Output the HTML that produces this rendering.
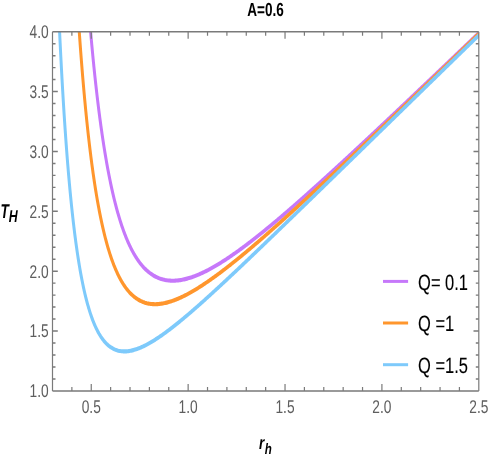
<!DOCTYPE html>
<html><head><meta charset="utf-8"><title>plot</title>
<style>
html,body{margin:0;padding:0;background:#fff;}
body{width:491px;height:458px;overflow:hidden;}
svg{display:block;will-change:transform;}
text{font-family:"Liberation Sans",sans-serif;text-rendering:geometricPrecision;}
</style></head><body>
<svg width="491" height="458" viewBox="0 0 491 458">
<rect x="0" y="0" width="491" height="458" fill="#fff"/>
<defs><clipPath id="cp"><rect x="52.5" y="31.7" width="426.3" height="359.2"/></clipPath></defs>
<g clip-path="url(#cp)">
<g transform="scale(0.73,1)" fill="none" stroke-width="4.1" stroke-linejoin="round" stroke-linecap="butt">
<path stroke="#c678fa" d="M123.18,23.82 L123.29,24.82 L123.41,25.82 L123.54,26.94 L123.67,28.05 L123.81,29.16 L123.94,30.26 L124.07,31.36 L124.20,32.45 L124.33,33.54 L124.46,34.62 L124.59,35.70 L124.72,36.78 L124.86,37.85 L124.99,38.91 L125.12,39.97 L125.25,41.03 L125.38,42.08 L125.51,43.12 L125.64,44.17 L125.78,45.20 L125.91,46.24 L126.04,47.26 L126.17,48.29 L126.30,49.31 L126.43,50.32 L126.56,51.33 L126.70,52.34 L126.83,53.34 L126.96,54.34 L127.10,55.44 L127.25,56.54 L127.40,57.63 L127.54,58.72 L127.69,59.80 L127.83,60.88 L127.98,61.95 L128.13,63.02 L128.27,64.08 L128.42,65.14 L128.56,66.19 L128.71,67.24 L128.86,68.28 L129.00,69.32 L129.15,70.35 L129.29,71.38 L129.44,72.40 L129.59,73.42 L129.73,74.43 L129.88,75.44 L130.02,76.44 L130.17,77.44 L130.33,78.53 L130.49,79.62 L130.65,80.70 L130.81,81.78 L130.97,82.85 L131.13,83.91 L131.29,84.97 L131.46,86.02 L131.62,87.07 L131.78,88.11 L131.94,89.15 L132.10,90.18 L132.26,91.21 L132.42,92.23 L132.58,93.25 L132.74,94.26 L132.90,95.27 L133.06,96.27 L133.22,97.26 L133.40,98.34 L133.57,99.42 L133.75,100.48 L133.92,101.55 L134.10,102.60 L134.27,103.65 L134.45,104.70 L134.62,105.73 L134.80,106.77 L134.97,107.79 L135.15,108.82 L135.32,109.83 L135.50,110.84 L135.67,111.85 L135.85,112.84 L136.03,113.84 L136.21,114.91 L136.40,115.97 L136.59,117.03 L136.78,118.08 L136.97,119.12 L137.16,120.16 L137.35,121.19 L137.54,122.22 L137.73,123.24 L137.92,124.25 L138.11,125.26 L138.30,126.26 L138.49,127.25 L138.70,128.32 L138.90,129.38 L139.11,130.43 L139.31,131.47 L139.51,132.51 L139.72,133.54 L139.92,134.57 L140.13,135.59 L140.33,136.60 L140.54,137.60 L140.74,138.60 L140.95,139.60 L141.16,140.65 L141.38,141.70 L141.60,142.74 L141.82,143.78 L142.04,144.81 L142.26,145.83 L142.48,146.84 L142.70,147.85 L142.92,148.85 L143.14,149.84 L143.37,150.89 L143.60,151.94 L143.84,152.97 L144.07,154.00 L144.30,155.02 L144.54,156.04 L144.77,157.05 L145.00,158.05 L145.24,159.04 L145.49,160.09 L145.73,161.12 L145.98,162.15 L146.23,163.18 L146.48,164.19 L146.73,165.20 L146.97,166.20 L147.22,167.19 L147.47,168.17 L147.73,169.21 L148.00,170.23 L148.26,171.25 L148.52,172.26 L148.79,173.26 L149.05,174.25 L149.31,175.24 L149.59,176.27 L149.87,177.29 L150.14,178.30 L150.42,179.31 L150.70,180.30 L150.98,181.29 L151.27,182.32 L151.56,183.34 L151.85,184.35 L152.14,185.36 L152.44,186.35 L152.73,187.34 L153.03,188.36 L153.34,189.38 L153.65,190.38 L153.95,191.38 L154.26,192.36 L154.57,193.34 L154.89,194.36 L155.21,195.36 L155.53,196.35 L155.85,197.34 L156.17,198.31 L156.51,199.32 L156.84,200.32 L157.18,201.31 L157.52,202.29 L157.87,203.30 L158.22,204.30 L158.57,205.28 L158.92,206.26 L159.27,207.23 L159.63,208.22 L160.00,209.21 L160.36,210.18 L160.74,211.19 L161.12,212.18 L161.50,213.15 L161.88,214.12 L162.28,215.11 L162.67,216.09 L163.06,217.06 L163.47,218.05 L163.88,219.03 L164.29,220.00 L164.70,220.95 L165.12,221.93 L165.55,222.89 L165.98,223.88 L166.42,224.85 L166.86,225.80 L167.31,226.78 L167.76,227.74 L168.22,228.69 L168.68,229.65 L169.15,230.60 L169.63,231.57 L170.12,232.52 L170.60,233.46 L171.09,234.41 L171.59,235.34 L172.10,236.29 L172.61,237.22 L173.14,238.17 L173.66,239.09 L174.20,240.03 L174.74,240.95 L175.30,241.88 L175.87,242.82 L176.44,243.74 L177.02,244.67 L177.60,245.58 L178.20,246.49 L178.82,247.41 L179.43,248.31 L180.06,249.21 L180.70,250.12 L181.34,251.01 L182.00,251.89 L182.67,252.78 L183.36,253.66 L184.06,254.55 L184.76,255.41 L185.47,256.27 L186.20,257.13 L186.95,257.98 L187.71,258.82 L188.48,259.66 L189.27,260.49 L190.07,261.32 L190.89,262.13 L191.72,262.94 L192.57,263.73 L193.43,264.51 L194.31,265.29 L195.21,266.06 L196.13,266.81 L197.07,267.56 L198.02,268.28 L198.99,269.00 L199.99,269.71 L200.99,270.39 L202.02,271.06 L203.07,271.72 L204.13,272.35 L205.21,272.97 L206.32,273.57 L207.45,274.15 L208.59,274.71 L209.75,275.25 L210.94,275.77 L212.13,276.26 L213.34,276.73 L214.59,277.17 L215.84,277.59 L217.11,277.99 L218.40,278.36 L219.70,278.70 L221.01,279.02 L222.32,279.30 L223.65,279.56 L225.00,279.79 L226.34,280.00 L227.70,280.18 L229.05,280.33 L230.43,280.45 L231.80,280.55 L233.17,280.63 L234.54,280.68 L235.92,280.70 L237.29,280.70 L238.66,280.68 L240.03,280.64 L241.41,280.57 L242.78,280.48 L244.15,280.38 L245.52,280.25 L246.88,280.10 L248.24,279.94 L249.60,279.76 L250.95,279.56 L252.30,279.35 L253.64,279.12 L254.98,278.87 L256.31,278.62 L257.64,278.34 L258.95,278.06 L260.27,277.76 L261.58,277.45 L262.88,277.14 L264.18,276.80 L265.48,276.46 L266.77,276.11 L268.05,275.75 L269.33,275.37 L270.60,274.99 L271.88,274.60 L273.15,274.21 L274.40,273.80 L275.66,273.39 L276.91,272.96 L278.15,272.54 L279.39,272.10 L280.63,271.66 L281.86,271.21 L283.09,270.76 L284.31,270.30 L285.54,269.83 L286.75,269.36 L287.96,268.88 L289.18,268.40 L290.39,267.91 L291.58,267.42 L292.78,266.92 L293.98,266.41 L295.18,265.91 L296.36,265.40 L297.54,264.88 L298.72,264.36 L299.91,263.84 L301.07,263.31 L302.24,262.78 L303.41,262.25 L304.58,261.71 L305.75,261.17 L306.90,260.63 L308.05,260.08 L309.21,259.53 L310.36,258.98 L311.51,258.42 L312.67,257.86 L313.81,257.30 L314.94,256.73 L316.08,256.17 L317.22,255.60 L318.36,255.02 L319.50,254.44 L320.62,253.87 L321.75,253.29 L322.87,252.71 L324.00,252.13 L325.12,251.54 L326.24,250.95 L327.37,250.36 L328.48,249.77 L329.59,249.18 L330.70,248.58 L331.81,247.99 L332.92,247.39 L334.03,246.78 L335.14,246.18 L336.25,245.57 L337.34,244.97 L338.43,244.36 L339.53,243.76 L340.62,243.15 L341.72,242.53 L342.81,241.92 L343.91,241.30 L345.00,240.68 L346.10,240.06 L347.19,239.44 L348.28,238.82 L349.36,238.20 L350.44,237.58 L351.52,236.96 L352.60,236.34 L353.68,235.71 L354.76,235.08 L355.84,234.45 L356.92,233.82 L358.00,233.18 L359.08,232.55 L360.14,231.92 L361.21,231.29 L362.28,230.66 L363.34,230.02 L364.41,229.39 L365.47,228.75 L366.54,228.11 L367.61,227.47 L368.67,226.83 L369.74,226.19 L370.80,225.54 L371.87,224.90 L372.93,224.25 L374.00,223.60 L375.07,222.95 L376.12,222.31 L377.17,221.67 L378.22,221.02 L379.27,220.38 L380.32,219.73 L381.37,219.08 L382.42,218.43 L383.47,217.78 L384.53,217.13 L385.58,216.47 L386.63,215.82 L387.68,215.17 L388.73,214.51 L389.78,213.85 L390.83,213.19 L391.88,212.53 L392.94,211.87 L393.99,211.21 L395.04,210.55 L396.07,209.89 L397.11,209.24 L398.15,208.58 L399.18,207.92 L400.22,207.27 L401.26,206.61 L402.29,205.95 L403.33,205.29 L404.37,204.63 L405.40,203.96 L406.44,203.30 L407.48,202.64 L408.51,201.97 L409.55,201.30 L410.59,200.64 L411.62,199.97 L412.66,199.30 L413.70,198.63 L414.73,197.96 L415.77,197.29 L416.81,196.62 L417.84,195.95 L418.88,195.28 L419.92,194.61 L420.95,193.93 L421.99,193.26 L423.03,192.58 L424.05,191.92 L425.07,191.25 L426.09,190.58 L427.11,189.91 L428.14,189.24 L429.16,188.57 L430.18,187.90 L431.20,187.23 L432.22,186.56 L433.25,185.89 L434.27,185.22 L435.29,184.55 L436.31,183.87 L437.33,183.20 L438.36,182.52 L439.38,181.85 L440.40,181.17 L441.42,180.50 L442.44,179.82 L443.47,179.14 L444.49,178.47 L445.51,177.79 L446.53,177.11 L447.55,176.43 L448.57,175.75 L449.60,175.07 L450.62,174.39 L451.64,173.71 L452.66,173.03 L453.68,172.35 L454.71,171.66 L455.73,170.98 L456.75,170.30 L457.77,169.61 L458.79,168.93 L459.82,168.25 L460.84,167.56 L461.86,166.88 L462.88,166.19 L463.90,165.51 L464.93,164.82 L465.95,164.13 L466.97,163.45 L467.99,162.76 L469.00,162.08 L470.01,161.40 L471.01,160.72 L472.02,160.04 L473.03,159.36 L474.04,158.69 L475.04,158.01 L476.05,157.33 L477.06,156.64 L478.07,155.96 L479.07,155.28 L480.08,154.60 L481.09,153.92 L482.10,153.24 L483.10,152.55 L484.11,151.87 L485.12,151.19 L486.13,150.50 L487.13,149.82 L488.14,149.14 L489.15,148.45 L490.15,147.77 L491.16,147.08 L492.17,146.40 L493.18,145.71 L494.18,145.03 L495.19,144.34 L496.20,143.66 L497.21,142.97 L498.21,142.28 L499.22,141.60 L500.23,140.91 L501.24,140.22 L502.24,139.53 L503.25,138.85 L504.26,138.16 L505.27,137.47 L506.27,136.78 L507.28,136.09 L508.29,135.40 L509.30,134.72 L510.30,134.03 L511.31,133.34 L512.32,132.65 L513.32,131.96 L514.33,131.27 L515.34,130.58 L516.35,129.89 L517.35,129.19 L518.36,128.50 L519.37,127.81 L520.38,127.12 L521.38,126.43 L522.39,125.74 L523.40,125.05 L524.41,124.35 L525.41,123.66 L526.42,122.97 L527.43,122.28 L528.44,121.58 L529.44,120.89 L530.45,120.20 L531.46,119.50 L532.46,118.81 L533.47,118.12 L534.48,117.42 L535.49,116.73 L536.49,116.03 L537.50,115.34 L538.51,114.64 L539.52,113.95 L540.52,113.26 L541.53,112.56 L542.54,111.87 L543.55,111.17 L544.55,110.47 L545.56,109.78 L546.57,109.08 L547.58,108.39 L548.58,107.69 L549.59,107.00 L550.60,106.30 L551.60,105.60 L552.61,104.91 L553.62,104.21 L554.63,103.51 L555.63,102.82 L556.64,102.12 L557.65,101.42 L558.66,100.72 L559.66,100.03 L560.67,99.33 L561.68,98.63 L562.69,97.93 L563.69,97.24 L564.70,96.54 L565.71,95.84 L566.72,95.14 L567.72,94.44 L568.73,93.74 L569.74,93.05 L570.75,92.35 L571.75,91.65 L572.76,90.95 L573.77,90.25 L574.77,89.55 L575.77,88.86 L576.76,88.17 L577.75,87.48 L578.75,86.79 L579.74,86.10 L580.73,85.41 L581.72,84.72 L582.72,84.04 L583.71,83.35 L584.70,82.66 L585.70,81.97 L586.69,81.28 L587.68,80.58 L588.67,79.89 L589.67,79.20 L590.66,78.51 L591.65,77.82 L592.64,77.13 L593.64,76.44 L594.63,75.75 L595.62,75.06 L596.62,74.37 L597.61,73.68 L598.60,72.99 L599.59,72.30 L600.59,71.60 L601.58,70.91 L602.57,70.22 L603.57,69.53 L604.56,68.84 L605.55,68.15 L606.54,67.46 L607.54,66.76 L608.53,66.07 L609.52,65.38 L610.51,64.69 L611.51,64.00 L612.50,63.30 L613.49,62.61 L614.49,61.92 L615.48,61.23 L616.47,60.53 L617.46,59.84 L618.46,59.15 L619.45,58.46 L620.44,57.76 L621.44,57.07 L622.43,56.38 L623.42,55.69 L624.41,54.99 L625.41,54.30 L626.40,53.61 L627.39,52.91 L628.38,52.22 L629.38,51.53 L630.37,50.83 L631.36,50.14 L632.36,49.45 L633.35,48.75 L634.34,48.06 L635.33,47.37 L636.33,46.67 L637.32,45.98 L638.31,45.29 L639.31,44.59 L640.30,43.90 L641.29,43.21 L642.28,42.51 L643.28,41.82 L644.27,41.12 L645.26,40.43 L646.25,39.74 L647.25,39.04 L648.24,38.35 L649.23,37.65 L650.23,36.96 L651.22,36.27 L652.21,35.57 L653.20,34.88 L654.20,34.18 L655.19,33.49 L655.89,33.00"/>
<path stroke="#ff962d" d="M107.83,23.77 L107.94,24.87 L108.04,25.96 L108.14,27.05 L108.24,28.14 L108.34,29.22 L108.45,30.30 L108.55,31.38 L108.65,32.45 L108.75,33.51 L108.85,34.57 L108.96,35.63 L109.06,36.68 L109.16,37.73 L109.26,38.78 L109.37,39.82 L109.47,40.85 L109.57,41.88 L109.67,42.91 L109.77,43.94 L109.88,44.96 L109.98,45.97 L110.08,46.98 L110.18,47.99 L110.29,49.00 L110.39,50.00 L110.50,51.13 L110.62,52.27 L110.74,53.39 L110.86,54.52 L110.97,55.63 L111.09,56.74 L111.21,57.85 L111.32,58.95 L111.44,60.05 L111.56,61.14 L111.67,62.23 L111.79,63.31 L111.91,64.39 L112.02,65.46 L112.14,66.53 L112.26,67.60 L112.37,68.65 L112.49,69.71 L112.61,70.76 L112.72,71.80 L112.84,72.84 L112.96,73.88 L113.07,74.91 L113.19,75.93 L113.31,76.95 L113.42,77.97 L113.54,78.98 L113.66,79.99 L113.78,80.99 L113.89,81.99 L114.02,83.11 L114.15,84.22 L114.29,85.33 L114.42,86.43 L114.55,87.53 L114.68,88.62 L114.81,89.70 L114.94,90.78 L115.07,91.86 L115.21,92.93 L115.34,93.99 L115.47,95.05 L115.60,96.10 L115.73,97.15 L115.86,98.19 L115.99,99.23 L116.13,100.26 L116.26,101.29 L116.39,102.31 L116.52,103.33 L116.65,104.34 L116.78,105.35 L116.91,106.35 L117.05,107.35 L117.19,108.45 L117.34,109.55 L117.48,110.64 L117.63,111.72 L117.78,112.80 L117.92,113.87 L118.07,114.94 L118.21,116.00 L118.36,117.06 L118.51,118.11 L118.65,119.15 L118.80,120.19 L118.94,121.22 L119.09,122.25 L119.24,123.27 L119.38,124.28 L119.53,125.30 L119.67,126.30 L119.82,127.30 L119.98,128.39 L120.14,129.48 L120.30,130.56 L120.46,131.63 L120.62,132.70 L120.78,133.76 L120.94,134.82 L121.10,135.86 L121.26,136.91 L121.43,137.94 L121.59,138.97 L121.75,140.00 L121.91,141.01 L122.07,142.03 L122.23,143.03 L122.39,144.03 L122.55,145.03 L122.72,146.10 L122.90,147.18 L123.08,148.24 L123.25,149.30 L123.43,150.35 L123.60,151.39 L123.78,152.43 L123.95,153.46 L124.13,154.48 L124.30,155.50 L124.48,156.51 L124.65,157.52 L124.83,158.51 L125.02,159.59 L125.21,160.65 L125.40,161.71 L125.59,162.77 L125.78,163.81 L125.97,164.85 L126.16,165.88 L126.35,166.90 L126.54,167.92 L126.73,168.93 L126.91,169.93 L127.10,170.92 L127.31,171.99 L127.51,173.05 L127.72,174.09 L127.92,175.14 L128.13,176.17 L128.33,177.20 L128.54,178.21 L128.74,179.22 L128.94,180.23 L129.15,181.22 L129.37,182.28 L129.59,183.33 L129.81,184.38 L130.02,185.41 L130.24,186.44 L130.46,187.46 L130.68,188.47 L130.90,189.47 L131.12,190.46 L131.35,191.51 L131.59,192.56 L131.82,193.59 L132.05,194.62 L132.29,195.64 L132.52,196.65 L132.75,197.65 L132.99,198.64 L133.24,199.68 L133.48,200.72 L133.73,201.75 L133.98,202.77 L134.23,203.77 L134.48,204.77 L134.73,205.77 L134.99,206.81 L135.25,207.84 L135.51,208.86 L135.78,209.87 L136.04,210.87 L136.30,211.86 L136.57,212.85 L136.84,213.87 L137.12,214.89 L137.40,215.90 L137.67,216.90 L137.95,217.89 L138.24,218.92 L138.54,219.94 L138.83,220.94 L139.12,221.94 L139.41,222.93 L139.70,223.91 L140.01,224.92 L140.32,225.93 L140.62,226.92 L140.93,227.91 L141.25,228.93 L141.57,229.93 L141.89,230.93 L142.22,231.91 L142.54,232.89 L142.87,233.89 L143.21,234.88 L143.54,235.87 L143.88,236.84 L144.23,237.84 L144.58,238.83 L144.93,239.80 L145.30,240.80 L145.66,241.80 L146.03,242.77 L146.39,243.74 L146.77,244.73 L147.15,245.71 L147.53,246.67 L147.92,247.66 L148.32,248.63 L148.71,249.59 L149.12,250.57 L149.53,251.54 L149.95,252.53 L150.38,253.50 L150.80,254.46 L151.24,255.43 L151.68,256.39 L152.13,257.37 L152.58,258.33 L153.03,259.27 L153.50,260.23 L153.97,261.18 L154.45,262.13 L154.93,263.07 L155.43,264.02 L155.92,264.96 L156.44,265.90 L156.96,266.85 L157.49,267.79 L158.03,268.73 L158.57,269.65 L159.12,270.58 L159.69,271.52 L160.26,272.43 L160.84,273.35 L161.44,274.27 L162.04,275.17 L162.65,276.07 L163.28,276.97 L163.92,277.87 L164.58,278.77 L165.25,279.66 L165.93,280.53 L166.61,281.40 L167.31,282.26 L168.03,283.12 L168.76,283.97 L169.50,284.81 L170.28,285.66 L171.06,286.50 L171.87,287.32 L172.68,288.13 L173.52,288.93 L174.38,289.73 L175.25,290.51 L176.14,291.28 L177.06,292.04 L178.00,292.78 L178.95,293.51 L179.93,294.22 L180.92,294.91 L181.94,295.59 L182.98,296.24 L184.04,296.88 L185.14,297.51 L186.25,298.10 L187.39,298.68 L188.54,299.23 L189.72,299.76 L190.92,300.25 L192.13,300.72 L193.37,301.17 L194.63,301.58 L195.90,301.96 L197.18,302.31 L198.48,302.64 L199.80,302.93 L201.12,303.19 L202.47,303.42 L203.81,303.62 L205.17,303.78 L206.53,303.92 L207.90,304.03 L209.27,304.11 L210.64,304.16 L212.02,304.18 L213.39,304.18 L214.76,304.15 L216.13,304.09 L217.51,304.01 L218.88,303.91 L220.25,303.79 L221.61,303.64 L222.97,303.47 L224.32,303.29 L225.67,303.09 L227.01,302.86 L228.35,302.62 L229.68,302.37 L231.01,302.10 L232.32,301.81 L233.64,301.51 L234.95,301.20 L236.25,300.88 L237.55,300.54 L238.84,300.19 L240.12,299.83 L241.41,299.46 L242.68,299.08 L243.95,298.69 L245.22,298.28 L246.47,297.88 L247.73,297.46 L248.97,297.03 L250.21,296.60 L251.45,296.16 L252.68,295.71 L253.90,295.26 L255.13,294.79 L256.36,294.32 L257.57,293.85 L258.78,293.37 L259.99,292.88 L261.19,292.39 L262.39,291.90 L263.58,291.39 L264.78,290.88 L265.96,290.37 L267.14,289.86 L268.33,289.33 L269.51,288.81 L270.68,288.28 L271.85,287.75 L273.01,287.21 L274.18,286.67 L275.34,286.13 L276.49,285.58 L277.64,285.03 L278.80,284.47 L279.95,283.91 L281.09,283.36 L282.23,282.79 L283.36,282.23 L284.50,281.66 L285.64,281.08 L286.78,280.51 L287.91,279.93 L289.03,279.35 L290.15,278.77 L291.28,278.19 L292.40,277.60 L293.53,277.01 L294.64,276.42 L295.75,275.83 L296.86,275.24 L297.96,274.64 L299.07,274.04 L300.18,273.44 L301.29,272.83 L302.40,272.22 L303.50,271.62 L304.59,271.02 L305.69,270.41 L306.78,269.80 L307.88,269.18 L308.97,268.57 L310.07,267.95 L311.16,267.33 L312.26,266.71 L313.34,266.09 L314.42,265.47 L315.50,264.85 L316.58,264.23 L317.66,263.60 L318.74,262.97 L319.82,262.34 L320.90,261.71 L321.98,261.08 L323.06,260.44 L324.13,259.81 L325.19,259.18 L326.26,258.55 L327.32,257.92 L328.39,257.28 L329.46,256.65 L330.52,256.01 L331.59,255.37 L332.65,254.73 L333.72,254.08 L334.79,253.44 L335.85,252.79 L336.92,252.14 L337.98,251.49 L339.03,250.85 L340.08,250.21 L341.14,249.56 L342.19,248.92 L343.24,248.27 L344.29,247.62 L345.34,246.97 L346.39,246.32 L347.44,245.67 L348.49,245.01 L349.55,244.36 L350.60,243.70 L351.65,243.04 L352.70,242.39 L353.75,241.73 L354.80,241.07 L355.85,240.40 L356.90,239.74 L357.94,239.09 L358.98,238.43 L360.01,237.77 L361.05,237.12 L362.09,236.46 L363.12,235.80 L364.16,235.14 L365.20,234.48 L366.23,233.81 L367.27,233.15 L368.31,232.49 L369.34,231.82 L370.38,231.15 L371.42,230.49 L372.45,229.82 L373.49,229.15 L374.53,228.48 L375.56,227.81 L376.60,227.14 L377.64,226.47 L378.67,225.80 L379.71,225.12 L380.74,224.45 L381.78,223.77 L382.80,223.11 L383.83,222.44 L384.85,221.77 L385.87,221.11 L386.89,220.44 L387.91,219.77 L388.94,219.10 L389.96,218.43 L390.98,217.76 L392.00,217.08 L393.02,216.41 L394.05,215.74 L395.07,215.06 L396.09,214.39 L397.11,213.71 L398.13,213.04 L399.16,212.36 L400.18,211.69 L401.20,211.01 L402.22,210.33 L403.24,209.65 L404.26,208.97 L405.29,208.29 L406.31,207.61 L407.33,206.93 L408.35,206.25 L409.37,205.57 L410.40,204.89 L411.42,204.21 L412.44,203.52 L413.46,202.84 L414.48,202.15 L415.51,201.47 L416.53,200.78 L417.55,200.10 L418.57,199.41 L419.59,198.73 L420.62,198.04 L421.64,197.35 L422.65,196.67 L423.65,196.00 L424.66,195.32 L425.67,194.64 L426.68,193.96 L427.68,193.28 L428.69,192.60 L429.70,191.92 L430.70,191.24 L431.71,190.55 L432.72,189.87 L433.73,189.19 L434.73,188.51 L435.74,187.82 L436.75,187.14 L437.76,186.46 L438.76,185.77 L439.77,185.09 L440.78,184.40 L441.79,183.72 L442.79,183.03 L443.80,182.35 L444.81,181.66 L445.82,180.97 L446.82,180.29 L447.83,179.60 L448.84,178.91 L449.85,178.23 L450.85,177.54 L451.86,176.85 L452.87,176.16 L453.87,175.47 L454.88,174.78 L455.89,174.09 L456.90,173.40 L457.90,172.71 L458.91,172.02 L459.92,171.33 L460.93,170.64 L461.93,169.95 L462.94,169.26 L463.95,168.57 L464.96,167.87 L465.96,167.18 L466.97,166.49 L467.98,165.80 L468.99,165.10 L469.99,164.41 L471.00,163.71 L472.01,163.02 L473.01,162.33 L474.02,161.63 L475.03,160.94 L476.04,160.24 L477.04,159.55 L478.05,158.85 L479.06,158.16 L480.07,157.46 L481.07,156.76 L482.08,156.07 L483.09,155.37 L484.10,154.68 L485.10,153.98 L486.11,153.28 L487.12,152.58 L488.13,151.89 L489.13,151.19 L490.14,150.49 L491.15,149.79 L492.15,149.09 L493.16,148.39 L494.17,147.70 L495.18,147.00 L496.17,146.31 L497.16,145.62 L498.16,144.93 L499.15,144.24 L500.14,143.55 L501.13,142.86 L502.13,142.17 L503.12,141.48 L504.11,140.79 L505.10,140.10 L506.10,139.41 L507.09,138.71 L508.08,138.02 L509.08,137.33 L510.07,136.64 L511.06,135.95 L512.05,135.26 L513.05,134.56 L514.04,133.87 L515.03,133.18 L516.03,132.49 L517.02,131.79 L518.01,131.10 L519.00,130.41 L520.00,129.71 L520.99,129.02 L521.98,128.33 L522.97,127.63 L523.97,126.94 L524.96,126.25 L525.95,125.55 L526.95,124.86 L527.94,124.16 L528.93,123.47 L529.92,122.77 L530.92,122.08 L531.91,121.38 L532.90,120.69 L533.90,119.99 L534.89,119.30 L535.88,118.60 L536.87,117.91 L537.87,117.21 L538.86,116.51 L539.85,115.82 L540.84,115.12 L541.84,114.43 L542.83,113.73 L543.82,113.03 L544.82,112.34 L545.81,111.64 L546.80,110.94 L547.79,110.24 L548.79,109.55 L549.78,108.85 L550.77,108.15 L551.77,107.45 L552.76,106.76 L553.75,106.06 L554.74,105.36 L555.74,104.66 L556.73,103.96 L557.72,103.27 L558.71,102.57 L559.71,101.87 L560.70,101.17 L561.69,100.47 L562.69,99.77 L563.68,99.07 L564.67,98.37 L565.66,97.67 L566.66,96.98 L567.65,96.28 L568.64,95.58 L569.64,94.88 L570.63,94.18 L571.62,93.48 L572.61,92.78 L573.61,92.08 L574.60,91.38 L575.59,90.68 L576.58,89.98 L577.58,89.28 L578.57,88.57 L579.56,87.87 L580.56,87.17 L581.55,86.47 L582.54,85.77 L583.53,85.07 L584.53,84.37 L585.52,83.67 L586.51,82.97 L587.51,82.27 L588.50,81.56 L589.49,80.86 L590.48,80.16 L591.48,79.46 L592.47,78.76 L593.46,78.05 L594.45,77.35 L595.45,76.65 L596.44,75.95 L597.43,75.25 L598.43,74.54 L599.42,73.84 L600.41,73.14 L601.40,72.44 L602.40,71.73 L603.39,71.03 L604.38,70.33 L605.38,69.62 L606.37,68.92 L607.36,68.22 L608.35,67.51 L609.35,66.81 L610.34,66.11 L611.33,65.40 L612.32,64.70 L613.32,64.00 L614.31,63.29 L615.30,62.59 L616.30,61.89 L617.29,61.18 L618.28,60.48 L619.27,59.77 L620.27,59.07 L621.26,58.36 L622.25,57.66 L623.25,56.96 L624.24,56.25 L625.23,55.55 L626.22,54.84 L627.22,54.14 L628.21,53.43 L629.20,52.73 L630.19,52.02 L631.19,51.32 L632.18,50.61 L633.17,49.91 L634.17,49.20 L635.16,48.50 L636.15,47.79 L637.14,47.09 L638.14,46.38 L639.13,45.68 L640.12,44.97 L641.12,44.26 L642.11,43.56 L643.10,42.85 L644.09,42.15 L645.09,41.44 L646.08,40.74 L647.07,40.03 L648.06,39.32 L649.06,38.62 L650.05,37.91 L651.04,37.20 L652.04,36.50 L653.03,35.79 L654.02,35.09 L655.01,34.38 L655.89,33.76"/>
<path stroke="#7ecafb" d="M81.12,23.75 L81.19,24.91 L81.26,26.06 L81.33,27.20 L81.41,28.34 L81.48,29.48 L81.55,30.61 L81.63,31.74 L81.70,32.87 L81.77,33.99 L81.85,35.10 L81.92,36.22 L81.99,37.33 L82.06,38.43 L82.14,39.53 L82.21,40.63 L82.28,41.72 L82.36,42.81 L82.43,43.89 L82.50,44.97 L82.58,46.05 L82.65,47.12 L82.72,48.19 L82.79,49.25 L82.87,50.31 L82.94,51.37 L83.01,52.42 L83.09,53.47 L83.16,54.52 L83.23,55.56 L83.31,56.60 L83.38,57.63 L83.45,58.66 L83.52,59.69 L83.60,60.71 L83.67,61.73 L83.74,62.74 L83.82,63.75 L83.89,64.76 L83.96,65.77 L84.04,66.77 L84.12,67.96 L84.21,69.15 L84.30,70.34 L84.39,71.52 L84.47,72.69 L84.56,73.86 L84.65,75.03 L84.74,76.19 L84.82,77.34 L84.91,78.49 L85.00,79.64 L85.09,80.78 L85.17,81.92 L85.26,83.05 L85.35,84.17 L85.44,85.29 L85.52,86.41 L85.61,87.52 L85.70,88.63 L85.79,89.73 L85.88,90.82 L85.96,91.92 L86.05,93.00 L86.14,94.09 L86.23,95.17 L86.31,96.24 L86.40,97.31 L86.49,98.37 L86.58,99.43 L86.66,100.49 L86.75,101.54 L86.84,102.59 L86.93,103.63 L87.01,104.66 L87.10,105.70 L87.19,106.73 L87.28,107.75 L87.36,108.77 L87.45,109.79 L87.54,110.80 L87.63,111.81 L87.71,112.81 L87.80,113.81 L87.90,114.97 L88.01,116.12 L88.11,117.27 L88.21,118.41 L88.31,119.55 L88.42,120.68 L88.52,121.81 L88.62,122.93 L88.72,124.04 L88.82,125.15 L88.93,126.26 L89.03,127.35 L89.13,128.45 L89.23,129.54 L89.34,130.62 L89.44,131.70 L89.54,132.77 L89.64,133.83 L89.74,134.90 L89.85,135.95 L89.95,137.00 L90.05,138.05 L90.15,139.09 L90.26,140.13 L90.36,141.16 L90.46,142.18 L90.56,143.21 L90.66,144.22 L90.77,145.23 L90.87,146.24 L90.97,147.24 L91.09,148.38 L91.20,149.51 L91.32,150.64 L91.44,151.76 L91.55,152.87 L91.67,153.98 L91.79,155.08 L91.90,156.17 L92.02,157.26 L92.14,158.35 L92.26,159.43 L92.37,160.50 L92.49,161.56 L92.61,162.62 L92.72,163.68 L92.84,164.72 L92.96,165.77 L93.07,166.80 L93.19,167.83 L93.31,168.86 L93.42,169.88 L93.54,170.89 L93.66,171.90 L93.77,172.91 L93.89,173.91 L94.02,175.02 L94.15,176.13 L94.28,177.23 L94.42,178.33 L94.55,179.42 L94.68,180.50 L94.81,181.58 L94.94,182.65 L95.07,183.71 L95.20,184.77 L95.34,185.82 L95.47,186.86 L95.60,187.90 L95.73,188.93 L95.86,189.95 L95.99,190.97 L96.12,191.98 L96.26,192.99 L96.39,193.99 L96.53,195.09 L96.68,196.19 L96.82,197.28 L96.97,198.36 L97.12,199.44 L97.26,200.51 L97.41,201.57 L97.55,202.62 L97.70,203.67 L97.85,204.71 L97.99,205.74 L98.14,206.77 L98.28,207.78 L98.43,208.80 L98.58,209.80 L98.72,210.80 L98.88,211.89 L99.04,212.98 L99.20,214.05 L99.37,215.12 L99.53,216.18 L99.69,217.23 L99.85,218.27 L100.01,219.31 L100.17,220.34 L100.33,221.36 L100.49,222.37 L100.65,223.38 L100.81,224.38 L100.99,225.46 L101.16,226.54 L101.34,227.60 L101.51,228.66 L101.69,229.71 L101.86,230.75 L102.04,231.78 L102.21,232.80 L102.39,233.82 L102.56,234.83 L102.74,235.83 L102.91,236.82 L103.10,237.88 L103.29,238.94 L103.48,239.99 L103.67,241.03 L103.86,242.06 L104.05,243.08 L104.24,244.09 L104.43,245.10 L104.62,246.09 L104.83,247.15 L105.03,248.21 L105.23,249.25 L105.44,250.28 L105.64,251.31 L105.85,252.32 L106.05,253.33 L106.26,254.33 L106.48,255.39 L106.69,256.43 L106.91,257.47 L107.13,258.50 L107.35,259.52 L107.57,260.52 L107.79,261.52 L108.01,262.51 L108.24,263.55 L108.48,264.59 L108.71,265.61 L108.94,266.62 L109.18,267.62 L109.41,268.61 L109.66,269.65 L109.91,270.68 L110.15,271.70 L110.40,272.71 L110.65,273.71 L110.90,274.69 L111.16,275.72 L111.42,276.74 L111.69,277.75 L111.95,278.75 L112.21,279.73 L112.49,280.76 L112.77,281.78 L113.05,282.78 L113.32,283.77 L113.61,284.80 L113.91,285.81 L114.20,286.82 L114.49,287.81 L114.78,288.78 L115.09,289.79 L115.40,290.79 L115.70,291.78 L116.02,292.80 L116.34,293.80 L116.67,294.79 L116.99,295.76 L117.32,296.77 L117.66,297.76 L117.99,298.73 L118.34,299.73 L118.70,300.72 L119.05,301.69 L119.41,302.69 L119.78,303.67 L120.16,304.67 L120.53,305.65 L120.91,306.62 L121.31,307.61 L121.70,308.58 L122.11,309.57 L122.52,310.54 L122.94,311.53 L123.37,312.49 L123.81,313.47 L124.24,314.44 L124.70,315.41 L125.15,316.37 L125.62,317.33 L126.08,318.27 L126.56,319.23 L127.06,320.19 L127.56,321.12 L128.07,322.07 L128.59,323.01 L129.12,323.94 L129.66,324.86 L130.21,325.79 L130.78,326.72 L131.37,327.64 L131.97,328.56 L132.58,329.48 L133.21,330.39 L133.85,331.29 L134.51,332.19 L135.18,333.07 L135.86,333.95 L136.57,334.81 L137.30,335.67 L138.04,336.53 L138.80,337.36 L139.59,338.19 L140.39,339.00 L141.22,339.81 L142.08,340.61 L142.96,341.38 L143.87,342.14 L144.80,342.88 L145.76,343.60 L146.76,344.31 L147.78,344.99 L148.83,345.65 L149.91,346.28 L151.02,346.88 L152.16,347.45 L153.33,347.98 L154.52,348.49 L155.75,348.95 L156.99,349.38 L158.26,349.77 L159.56,350.11 L160.87,350.42 L162.20,350.68 L163.55,350.91 L164.90,351.08 L166.26,351.22 L167.63,351.32 L169.01,351.38 L170.38,351.40 L171.75,351.38 L173.12,351.33 L174.50,351.24 L175.87,351.13 L177.23,350.98 L178.58,350.81 L179.93,350.61 L181.27,350.38 L182.60,350.13 L183.93,349.86 L185.24,349.57 L186.55,349.26 L187.85,348.93 L189.15,348.58 L190.44,348.22 L191.71,347.84 L192.98,347.45 L194.23,347.04 L195.49,346.63 L196.73,346.20 L197.97,345.76 L199.20,345.31 L200.42,344.84 L201.64,344.37 L202.85,343.89 L204.06,343.40 L205.26,342.91 L206.45,342.40 L207.64,341.89 L208.82,341.37 L210.00,340.85 L211.17,340.32 L212.34,339.78 L213.51,339.23 L214.66,338.69 L215.81,338.13 L216.97,337.57 L218.10,337.01 L219.24,336.45 L220.38,335.87 L221.51,335.30 L222.63,334.72 L223.75,334.14 L224.88,333.55 L225.99,332.96 L227.10,332.37 L228.21,331.78 L229.32,331.17 L230.43,330.57 L231.52,329.97 L232.62,329.36 L233.71,328.75 L234.81,328.13 L235.90,327.51 L237.00,326.89 L238.08,326.27 L239.16,325.65 L240.24,325.02 L241.32,324.40 L242.40,323.76 L243.48,323.13 L244.54,322.50 L245.61,321.87 L246.68,321.23 L247.74,320.59 L248.81,319.95 L249.87,319.31 L250.94,318.66 L252.00,318.01 L253.06,317.37 L254.11,316.72 L255.16,316.08 L256.21,315.43 L257.26,314.77 L258.31,314.12 L259.36,313.46 L260.41,312.81 L261.47,312.15 L262.52,311.48 L263.55,310.83 L264.59,310.17 L265.63,309.51 L266.66,308.85 L267.70,308.19 L268.74,307.53 L269.77,306.86 L270.81,306.20 L271.85,305.53 L272.88,304.86 L273.92,304.19 L274.96,303.51 L275.99,302.84 L277.01,302.17 L278.04,301.51 L279.06,300.84 L280.08,300.17 L281.10,299.50 L282.12,298.83 L283.15,298.15 L284.17,297.48 L285.19,296.80 L286.21,296.13 L287.23,295.45 L288.26,294.77 L289.28,294.09 L290.30,293.41 L291.32,292.73 L292.34,292.04 L293.37,291.36 L294.39,290.67 L295.41,289.99 L296.43,289.30 L297.45,288.62 L298.46,287.94 L299.47,287.26 L300.48,286.58 L301.48,285.90 L302.49,285.22 L303.50,284.53 L304.51,283.85 L305.51,283.17 L306.52,282.48 L307.53,281.80 L308.53,281.11 L309.54,280.43 L310.55,279.74 L311.56,279.05 L312.56,278.36 L313.57,277.67 L314.58,276.98 L315.59,276.30 L316.59,275.60 L317.60,274.91 L318.61,274.22 L319.62,273.53 L320.62,272.84 L321.63,272.14 L322.64,271.45 L323.65,270.76 L324.65,270.06 L325.66,269.37 L326.67,268.67 L327.68,267.97 L328.68,267.28 L329.69,266.58 L330.70,265.88 L331.70,265.19 L332.71,264.49 L333.72,263.79 L334.73,263.09 L335.72,262.40 L336.71,261.71 L337.70,261.02 L338.70,260.33 L339.69,259.64 L340.68,258.95 L341.68,258.26 L342.67,257.57 L343.66,256.88 L344.65,256.18 L345.65,255.49 L346.64,254.80 L347.63,254.11 L348.63,253.41 L349.62,252.72 L350.61,252.03 L351.60,251.33 L352.60,250.64 L353.59,249.94 L354.58,249.25 L355.57,248.55 L356.57,247.86 L357.56,247.16 L358.55,246.46 L359.55,245.77 L360.54,245.07 L361.53,244.38 L362.52,243.68 L363.52,242.98 L364.51,242.28 L365.50,241.59 L366.50,240.89 L367.49,240.19 L368.48,239.49 L369.47,238.80 L370.47,238.10 L371.46,237.40 L372.45,236.70 L373.45,236.00 L374.44,235.30 L375.43,234.60 L376.42,233.90 L377.42,233.20 L378.41,232.50 L379.40,231.80 L380.39,231.10 L381.39,230.40 L382.38,229.70 L383.37,229.00 L384.37,228.30 L385.36,227.60 L386.35,226.90 L387.34,226.20 L388.34,225.50 L389.33,224.80 L390.32,224.10 L391.32,223.39 L392.31,222.69 L393.30,221.99 L394.29,221.29 L395.29,220.59 L396.28,219.88 L397.27,219.18 L398.26,218.48 L399.26,217.78 L400.25,217.08 L401.24,216.37 L402.24,215.67 L403.23,214.97 L404.22,214.26 L405.21,213.56 L406.21,212.86 L407.20,212.15 L408.19,211.45 L409.19,210.75 L410.18,210.04 L411.17,209.34 L412.16,208.64 L413.16,207.93 L414.15,207.23 L415.14,206.53 L416.13,205.82 L417.13,205.12 L418.12,204.41 L419.11,203.71 L420.11,203.01 L421.10,202.30 L422.09,201.60 L423.08,200.89 L424.08,200.19 L425.07,199.48 L426.06,198.78 L427.06,198.08 L428.05,197.37 L429.04,196.67 L430.03,195.96 L431.03,195.26 L432.02,194.55 L433.01,193.85 L434.00,193.14 L435.00,192.44 L435.99,191.73 L436.98,191.03 L437.98,190.32 L438.97,189.62 L439.96,188.91 L440.95,188.21 L441.95,187.50 L442.94,186.79 L443.93,186.09 L444.93,185.38 L445.92,184.68 L446.91,183.97 L447.90,183.27 L448.90,182.56 L449.89,181.86 L450.88,181.15 L451.87,180.44 L452.87,179.74 L453.86,179.03 L454.85,178.33 L455.85,177.62 L456.84,176.92 L457.83,176.21 L458.82,175.50 L459.82,174.80 L460.81,174.09 L461.80,173.39 L462.80,172.68 L463.79,171.97 L464.78,171.27 L465.77,170.56 L466.77,169.85 L467.76,169.15 L468.75,168.44 L469.74,167.74 L470.74,167.03 L471.73,166.32 L472.72,165.62 L473.72,164.91 L474.71,164.21 L475.70,163.50 L476.69,162.79 L477.69,162.09 L478.68,161.38 L479.67,160.67 L480.67,159.97 L481.66,159.26 L482.65,158.55 L483.64,157.85 L484.64,157.14 L485.63,156.44 L486.62,155.73 L487.61,155.02 L488.61,154.32 L489.60,153.61 L490.59,152.90 L491.59,152.20 L492.58,151.49 L493.57,150.78 L494.56,150.08 L495.56,149.37 L496.55,148.66 L497.54,147.96 L498.54,147.25 L499.53,146.54 L500.52,145.84 L501.51,145.13 L502.51,144.42 L503.50,143.72 L504.49,143.01 L505.48,142.30 L506.48,141.60 L507.47,140.89 L508.46,140.18 L509.46,139.48 L510.45,138.77 L511.44,138.06 L512.43,137.36 L513.43,136.65 L514.42,135.94 L515.41,135.24 L516.41,134.53 L517.40,133.82 L518.39,133.12 L519.38,132.41 L520.38,131.70 L521.37,131.00 L522.36,130.29 L523.35,129.58 L524.35,128.88 L525.34,128.17 L526.33,127.46 L527.33,126.76 L528.32,126.05 L529.31,125.34 L530.30,124.64 L531.30,123.93 L532.29,123.22 L533.28,122.52 L534.28,121.81 L535.27,121.10 L536.26,120.40 L537.25,119.69 L538.25,118.98 L539.24,118.28 L540.23,117.57 L541.22,116.86 L542.22,116.16 L543.21,115.45 L544.20,114.74 L545.20,114.04 L546.19,113.33 L547.18,112.62 L548.17,111.92 L549.17,111.21 L550.16,110.50 L551.15,109.80 L552.15,109.09 L553.14,108.38 L554.13,107.68 L555.12,106.97 L556.12,106.26 L557.11,105.56 L558.10,104.85 L559.09,104.15 L560.09,103.44 L561.08,102.73 L562.07,102.03 L563.07,101.32 L564.06,100.61 L565.05,99.91 L566.04,99.20 L567.04,98.49 L568.03,97.79 L569.02,97.08 L570.02,96.37 L571.01,95.67 L572.00,94.96 L572.99,94.25 L573.99,93.55 L574.98,92.84 L575.97,92.13 L576.96,91.43 L577.96,90.72 L578.95,90.01 L579.94,89.31 L580.94,88.60 L581.93,87.89 L582.92,87.19 L583.91,86.48 L584.91,85.78 L585.90,85.07 L586.89,84.36 L587.89,83.66 L588.88,82.95 L589.87,82.24 L590.86,81.54 L591.86,80.83 L592.85,80.12 L593.84,79.42 L594.83,78.71 L595.83,78.00 L596.82,77.30 L597.81,76.59 L598.81,75.89 L599.80,75.18 L600.79,74.47 L601.78,73.77 L602.78,73.06 L603.77,72.35 L604.76,71.65 L605.76,70.94 L606.75,70.24 L607.74,69.53 L608.73,68.82 L609.73,68.12 L610.72,67.41 L611.71,66.70 L612.70,66.00 L613.70,65.29 L614.69,64.59 L615.68,63.88 L616.68,63.17 L617.67,62.47 L618.66,61.76 L619.65,61.05 L620.65,60.35 L621.64,59.64 L622.63,58.94 L623.63,58.23 L624.62,57.52 L625.61,56.82 L626.60,56.11 L627.60,55.40 L628.59,54.70 L629.58,53.99 L630.57,53.29 L631.57,52.58 L632.56,51.87 L633.55,51.17 L634.55,50.46 L635.54,49.76 L636.53,49.05 L637.52,48.34 L638.52,47.64 L639.51,46.93 L640.50,46.23 L641.50,45.52 L642.49,44.81 L643.48,44.11 L644.47,43.40 L645.47,42.70 L646.46,41.99 L647.45,41.28 L648.44,40.58 L649.44,39.87 L650.43,39.17 L651.42,38.46 L652.42,37.75 L653.41,37.05 L654.40,36.34 L655.39,35.64 L655.89,35.28"/>
</g>
</g>
<g stroke="#7a7a7a" fill="none">
<g stroke-width="1.45">
<path d="M52.5,31.7H478.8M52.5,390.9H478.8"/>
<path d="M52.5,378.93h3.0M478.8,378.93h-3.0"/>
<path d="M52.5,366.95h3.0M478.8,366.95h-3.0"/>
<path d="M52.5,354.98h3.0M478.8,354.98h-3.0"/>
<path d="M52.5,343.01h3.0M478.8,343.01h-3.0"/>
<path d="M52.5,331.03h5.3M478.8,331.03h-5.3"/>
<path d="M52.5,319.06h3.0M478.8,319.06h-3.0"/>
<path d="M52.5,307.09h3.0M478.8,307.09h-3.0"/>
<path d="M52.5,295.11h3.0M478.8,295.11h-3.0"/>
<path d="M52.5,283.14h3.0M478.8,283.14h-3.0"/>
<path d="M52.5,271.17h5.3M478.8,271.17h-5.3"/>
<path d="M52.5,259.19h3.0M478.8,259.19h-3.0"/>
<path d="M52.5,247.22h3.0M478.8,247.22h-3.0"/>
<path d="M52.5,235.25h3.0M478.8,235.25h-3.0"/>
<path d="M52.5,223.27h3.0M478.8,223.27h-3.0"/>
<path d="M52.5,211.30h5.3M478.8,211.30h-5.3"/>
<path d="M52.5,199.33h3.0M478.8,199.33h-3.0"/>
<path d="M52.5,187.35h3.0M478.8,187.35h-3.0"/>
<path d="M52.5,175.38h3.0M478.8,175.38h-3.0"/>
<path d="M52.5,163.41h3.0M478.8,163.41h-3.0"/>
<path d="M52.5,151.43h5.3M478.8,151.43h-5.3"/>
<path d="M52.5,139.46h3.0M478.8,139.46h-3.0"/>
<path d="M52.5,127.49h3.0M478.8,127.49h-3.0"/>
<path d="M52.5,115.51h3.0M478.8,115.51h-3.0"/>
<path d="M52.5,103.54h3.0M478.8,103.54h-3.0"/>
<path d="M52.5,91.57h5.3M478.8,91.57h-5.3"/>
<path d="M52.5,79.59h3.0M478.8,79.59h-3.0"/>
<path d="M52.5,67.62h3.0M478.8,67.62h-3.0"/>
<path d="M52.5,55.65h3.0M478.8,55.65h-3.0"/>
<path d="M52.5,43.67h3.0M478.8,43.67h-3.0"/>
</g>
<g stroke-width="1.2">
<path d="M52.5,31.7V390.9M478.8,31.7V390.9"/>
<path d="M71.88,390.9v-4.0M71.88,31.7v4.0"/>
<path d="M91.25,390.9v-7.0M91.25,31.7v7.0"/>
<path d="M110.63,390.9v-4.0M110.63,31.7v4.0"/>
<path d="M130.01,390.9v-4.0M130.01,31.7v4.0"/>
<path d="M149.39,390.9v-4.0M149.39,31.7v4.0"/>
<path d="M168.76,390.9v-4.0M168.76,31.7v4.0"/>
<path d="M188.14,390.9v-7.0M188.14,31.7v7.0"/>
<path d="M207.52,390.9v-4.0M207.52,31.7v4.0"/>
<path d="M226.90,390.9v-4.0M226.90,31.7v4.0"/>
<path d="M246.27,390.9v-4.0M246.27,31.7v4.0"/>
<path d="M265.65,390.9v-4.0M265.65,31.7v4.0"/>
<path d="M285.03,390.9v-7.0M285.03,31.7v7.0"/>
<path d="M304.40,390.9v-4.0M304.40,31.7v4.0"/>
<path d="M323.78,390.9v-4.0M323.78,31.7v4.0"/>
<path d="M343.16,390.9v-4.0M343.16,31.7v4.0"/>
<path d="M362.54,390.9v-4.0M362.54,31.7v4.0"/>
<path d="M381.91,390.9v-7.0M381.91,31.7v7.0"/>
<path d="M401.29,390.9v-4.0M401.29,31.7v4.0"/>
<path d="M420.67,390.9v-4.0M420.67,31.7v4.0"/>
<path d="M440.05,390.9v-4.0M440.05,31.7v4.0"/>
<path d="M459.42,390.9v-4.0M459.42,31.7v4.0"/>
</g>
</g>
<g fill="#5e5e5e">
<text transform="translate(91.25,413.20) rotate(0.06) scale(0.07430,0.1)" font-size="185.0" text-anchor="middle">0.5</text>
<text transform="translate(188.14,413.20) rotate(0.06) scale(0.07430,0.1)" font-size="185.0" text-anchor="middle">1.0</text>
<text transform="translate(285.03,413.20) rotate(0.06) scale(0.07430,0.1)" font-size="185.0" text-anchor="middle">1.5</text>
<text transform="translate(381.91,413.20) rotate(0.06) scale(0.07430,0.1)" font-size="185.0" text-anchor="middle">2.0</text>
<text transform="translate(478.80,413.20) rotate(0.06) scale(0.07430,0.1)" font-size="185.0" text-anchor="middle">2.5</text>
<text transform="translate(48.60,397.30) rotate(0.06) scale(0.07430,0.1)" font-size="185.0" text-anchor="end">1.0</text>
<text transform="translate(48.60,337.43) rotate(0.06) scale(0.07430,0.1)" font-size="185.0" text-anchor="end">1.5</text>
<text transform="translate(48.60,277.57) rotate(0.06) scale(0.07430,0.1)" font-size="185.0" text-anchor="end">2.0</text>
<text transform="translate(48.60,217.70) rotate(0.06) scale(0.07430,0.1)" font-size="185.0" text-anchor="end">2.5</text>
<text transform="translate(48.60,157.83) rotate(0.06) scale(0.07430,0.1)" font-size="185.0" text-anchor="end">3.0</text>
<text transform="translate(48.60,97.97) rotate(0.06) scale(0.07430,0.1)" font-size="185.0" text-anchor="end">3.5</text>
<text transform="translate(48.60,38.10) rotate(0.06) scale(0.07430,0.1)" font-size="185.0" text-anchor="end">4.0</text>
</g>
<g fill="#000">
<text transform="translate(265.60,16.30) rotate(0.06) scale(0.07150,0.1)" font-size="190.0" text-anchor="middle" font-weight="bold">A=0.6</text>
<text transform="translate(0.60,218.00) rotate(0.06) scale(0.06770,0.1)" font-size="202.0" text-anchor="start" font-weight="bold" font-style="italic">T</text>
<text transform="translate(8.80,222.00) rotate(0.06) scale(0.07200,0.1)" font-size="171.0" text-anchor="start" font-weight="bold" font-style="italic">H</text>
<text transform="translate(258.90,449.00) rotate(0.06) scale(0.07430,0.1)" font-size="184.0" text-anchor="start" font-weight="bold" font-style="italic">r</text>
<text transform="translate(264.80,453.60) rotate(0.06) scale(0.07600,0.1)" font-size="152.0" text-anchor="start" font-weight="bold" font-style="italic">h</text>
</g>
<g stroke-width="3.0" fill="none">
<path d="M383,281.4H408.1" stroke="#c678fa"/>
<path d="M383,323.0H408.1" stroke="#ff962d"/>
<path d="M383,364.7H408.1" stroke="#7ecafb"/>
</g>
<g fill="#000" stroke="#000" stroke-width="1.2">
<text transform="translate(418.10,289.80) rotate(0.06) scale(0.07400,0.1)" font-size="222.0" text-anchor="start">Q= 0.1</text>
<text transform="translate(418.10,331.40) rotate(0.06) scale(0.07400,0.1)" font-size="222.0" text-anchor="start">Q =1</text>
<text transform="translate(418.10,373.10) rotate(0.06) scale(0.07400,0.1)" font-size="222.0" text-anchor="start">Q =1.5</text>
</g>
</svg>
</body></html>
